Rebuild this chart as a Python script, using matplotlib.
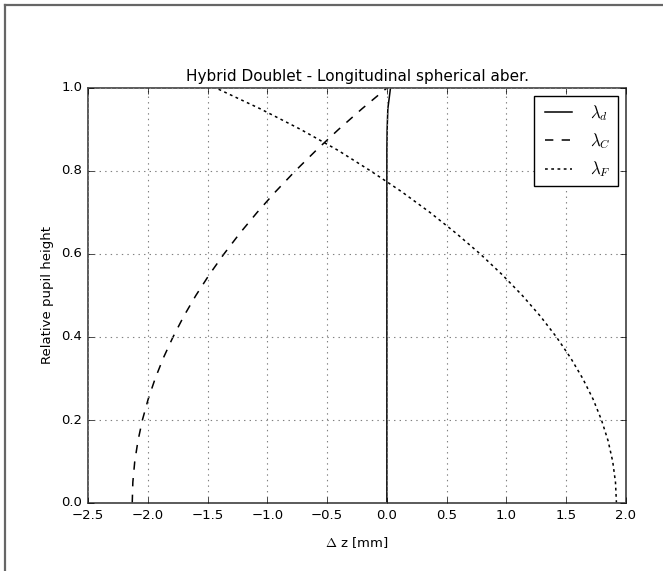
import matplotlib
matplotlib.use("Agg")
import matplotlib.pyplot as plt
from matplotlib.lines import Line2D

plt.style.use("classic")
plt.rcParams["font.family"] = ["DejaVu Sans"]
plt.rcParams["mathtext.fontset"] = "cm"

# relative pupil height
pupil = [0.0, 0.05, 0.1, 0.15, 0.2, 0.25, 0.3, 0.35, 0.4, 0.45, 0.5,
         0.55, 0.6, 0.65, 0.7, 0.75, 0.8, 0.85, 0.9, 0.95, 1.0]

# longitudinal aberration [mm] per wavelength
dz_d = [0.0, 0.0, 0.0, 0.0, 0.0, 0.0, 0.0, 0.0, 0.0, 0.0, 0.0,
        0.0, 0.0, 0.0, 0.0, 0.0, 0.0, 0.0, 0.002, 0.008, 0.03]
dz_C = [-2.13, -2.125, -2.109, -2.082, -2.045, -1.997, -1.938, -1.869, -1.789, -1.699, -1.598,
        -1.486, -1.363, -1.230, -1.086, -0.932, -0.767, -0.591, -0.405, -0.208, 0.0]
dz_F = [1.92, 1.912, 1.889, 1.850, 1.795, 1.725, 1.638, 1.536, 1.418, 1.284, 1.133,
        0.965, 0.781, 0.579, 0.361, 0.124, -0.135, -0.41, -0.72, -1.06, -1.43]

fig = plt.figure(figsize=(6.63, 5.71), dpi=100, facecolor="white")
ax = fig.add_axes([88/663, 1 - 503/571, 538/663, 415/571])
ax.set_facecolor("white")

ax.plot(dz_d, pupil, "k-", lw=1.1, label=r"$\lambda_d$")
ax.plot(dz_C, pupil, "k--", lw=1.1, label=r"$\lambda_C$")
ax.plot(dz_F, pupil, color="k", lw=1.1, dashes=(2, 2.5, 2, 2.5), label=r"$\lambda_F$")

ax.set_xlim(-2.5, 2.0)
ax.set_ylim(0.0, 1.0)
ax.grid(True, color="0.5", linestyle=":", lw=0.8)
ax.tick_params(labelsize=9.5, direction="in")
ax.set_title("Hybrid Doublet - Longitudinal spherical aber.", fontsize=11)
ax.set_xlabel(r"$\Delta$ z [mm]", fontsize=9.5, labelpad=10)
ax.set_ylabel("Relative pupil height", fontsize=9.5)
for s in ax.spines.values():
    s.set_color("0.3")
    s.set_linewidth(1.3)

leg = ax.legend(loc="upper right", fontsize=12, fancybox=False, handlelength=2.2)
leg.get_frame().set_edgecolor("k")

# figure frame (top and left edges visible)
fig.add_artist(Line2D([5/663, 1], [1 - 5/571, 1 - 5/571], transform=fig.transFigure, color="0.4", lw=1.6))
fig.add_artist(Line2D([5/663, 5/663], [0, 1 - 5/571], transform=fig.transFigure, color="0.4", lw=1.6))

fig.savefig("out.png", dpi=100, facecolor="white")
